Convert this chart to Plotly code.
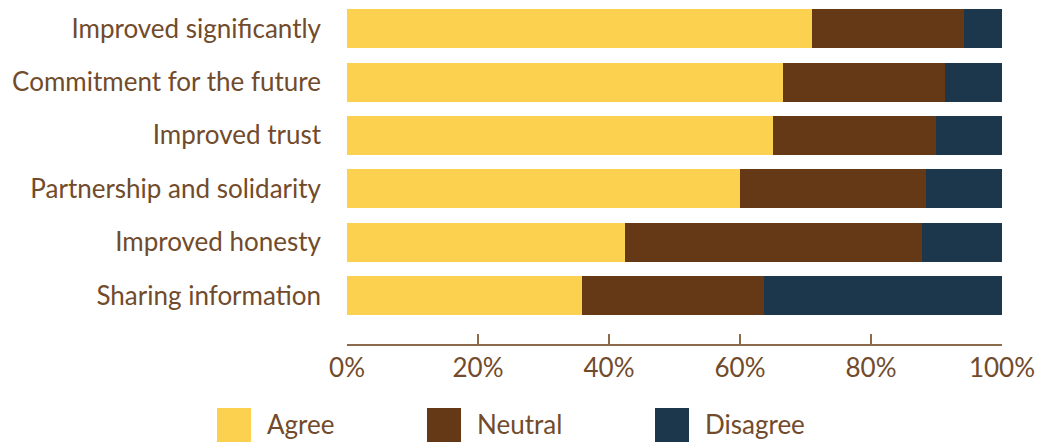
import plotly.graph_objects as go

# Data (top-to-bottom order as shown in the chart)
categories = [
    "Improved significantly",
    "Commitment for the future",
    "Improved trust",
    "Partnership and solidarity",
    "Improved honesty",
    "Sharing information",
]
agree = [71.0, 66.5, 65.0, 60.0, 42.4, 35.9]
neutral = [23.2, 24.8, 24.9, 28.4, 45.4, 27.8]
disagree = [5.8, 8.7, 10.1, 11.6, 12.2, 36.3]

series_names = ["Agree", "Neutral", "Disagree"]
series_colors = ["#FCD150", "#663916", "#1C364C"]
x_ticks = [0, 20, 40, 60, 80, 100]
x_tick_labels = ["0%", "20%", "40%", "60%", "80%", "100%"]

TEXT = "#714B2B"
AXIS = "#8C6A4C"
FONT = "Lato, 'Open Sans', sans-serif"
FS = 26

# plot bottom-to-top so first category ends at top
cats_plot = categories[::-1]
values = [agree[::-1], neutral[::-1], disagree[::-1]]

fig = go.Figure()
for name, col, vals in zip(series_names, series_colors, values):
    fig.add_trace(go.Bar(
        y=cats_plot, x=vals, name=name, orientation="h",
        marker=dict(color=col, line=dict(width=0)),
        showlegend=False,
    ))

W, H = 1037, 442
L, R, T, B = 347, 35, 2, 98

fig.update_layout(
    width=W, height=H,
    barmode="stack", bargap=0.27,
    margin=dict(l=L, r=R, t=T, b=B, pad=0),
    plot_bgcolor="white", paper_bgcolor="white",
    font=dict(family=FONT, color=TEXT, size=FS),
    xaxis=dict(
        range=[0, 100], tickvals=x_ticks, ticktext=x_tick_labels,
        showgrid=False, zeroline=False,
        showline=True, linecolor=AXIS, linewidth=1.5,
        ticks="inside", ticklen=10, tickcolor=AXIS, tickwidth=1.5,
        tickfont=dict(size=FS, color=TEXT, family=FONT),
        fixedrange=True,
    ),
    yaxis=dict(
        categoryorder="array", categoryarray=cats_plot,
        range=[-0.91, 5.5],
        showgrid=False, zeroline=False, showline=False, ticks="",
        ticklabelstandoff=25,
        tickfont=dict(size=FS, color=TEXT, family=FONT),
        fixedrange=True,
    ),
)

# Manual legend with large square swatches (paper coords relative to plot area)
pw = W - L - R
ph = H - T - B
def px_to_paper_x(px):
    return (px - L) / pw
def px_to_paper_y(py):
    return (H - B - py) / ph

legend_x = [217, 427, 655]
sw = 34
sy0, sy1 = 408, 442
for name, col, lx in zip(series_names, series_colors, legend_x):
    fig.add_shape(
        type="rect", xref="paper", yref="paper",
        x0=px_to_paper_x(lx), x1=px_to_paper_x(lx + sw),
        y0=px_to_paper_y(sy1), y1=px_to_paper_y(sy0),
        fillcolor=col, line=dict(width=0),
    )
    fig.add_annotation(
        xref="paper", yref="paper",
        x=px_to_paper_x(lx + sw + 14), y=px_to_paper_y((sy0 + sy1) / 2 - 1),
        text=name, showarrow=False, xanchor="left", yanchor="middle",
        font=dict(size=FS, color=TEXT, family=FONT),
    )

fig.write_html(
    "out.html",
    config={"displayModeBar": False},
    post_script="document.body.style.margin='0';document.body.style.overflow='hidden';",
)
